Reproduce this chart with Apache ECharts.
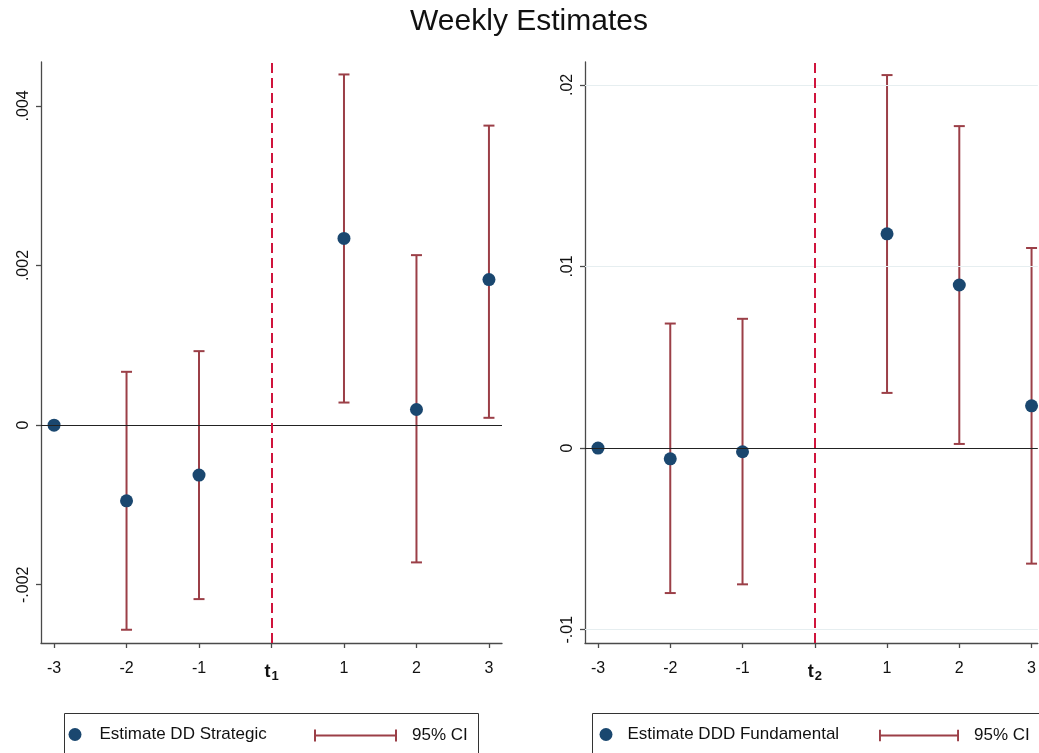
<!DOCTYPE html>
<html><head><meta charset="utf-8">
<script src="https://cdn.jsdelivr.net/npm/echarts@6/dist/echarts.min.js"></script>
<style>html,body{margin:0;padding:0;background:#fff}#c{width:1039px;height:753px}</style>
</head><body><div id="c"></div>
<script>
// ---- data ----
const weeks = [-3, -2, -1, 1, 2, 3];
const xTickValues = [-3, -2, -1, 0, 1, 2, 3];
const xTickLabelsLeft = ['-3', '-2', '-1', '{t|t}{s|1}', '1', '2', '3'];
const xTickLabelsRight = ['-3', '-2', '-1', '{t|t}{s|2}', '1', '2', '3'];

const leftEstimate = [0, -0.000948, -0.000626, 0.00234, 0.000196, 0.001824];
const leftLower    = [0, -0.002564, -0.00218, 0.000283, -0.00172, 0.0000917];
const leftUpper    = [0, 0.000668, 0.000927, 0.004394, 0.00213, 0.003753];
const leftYTicks = [-0.002, 0, 0.002, 0.004];
const leftYTickLabels = ['-.002', '0', '.002', '.004'];

const rightEstimate = [0, -0.000587, -0.0002, 0.0118, 0.00898, 0.00233];
const rightLower    = [0, -0.00798, -0.0075, 0.00304, 0.00023, -0.00636];
const rightUpper    = [0, 0.00686, 0.00712, 0.02054, 0.01773, 0.01102];
const rightYTicks = [-0.01, 0, 0.01, 0.02];
const rightYTickLabels = ['-.01', '0', '.01', '.02'];

const leftName = 'Estimate DD Strategic';
const rightName = 'Estimate DDD Fundamental';
const ciName = '95% CI';

// ---- style ----
const FONT = '"Liberation Sans", Arial, Helvetica, sans-serif';
const DOT = '#1a476f';
const CI = '#9b3f47';
const VLINE = '#d0143c';
const AXIS = '#4a4a4a';
const GRID = '#e6eef0';
const CI_ICON = 'path://M0,0h2v12h-2zM0,5h83v2h-83zM81,0h2v12h-2z';

function ciRender(params, api) {
  const x = api.value(0), lo = api.value(1), hi = api.value(2);
  const pLo = api.coord([x, lo]), pHi = api.coord([x, hi]);
  const hw = 5.5;
  const st = {stroke: CI, lineWidth: 2, fill: null};
  return {type: 'group', children: [
    {type: 'line', shape: {x1: pLo[0], y1: pLo[1], x2: pHi[0], y2: pHi[1]}, style: st},
    {type: 'line', shape: {x1: pLo[0] - hw, y1: pLo[1], x2: pLo[0] + hw, y2: pLo[1]}, style: st},
    {type: 'line', shape: {x1: pHi[0] - hw, y1: pHi[1], x2: pHi[0] + hw, y2: pHi[1]}, style: st}
  ]};
}

function xAxisFor(idx, labels, min, max) {
  return {
    type: 'value', gridIndex: idx, min: min, max: max,
    axisLine: {show: true, onZero: false, lineStyle: {color: AXIS, width: 1.3}},
    axisTick: {show: true, length: 5, customValues: xTickValues, lineStyle: {color: AXIS, width: 1.3}},
    splitLine: {show: false},
    axisLabel: {
      customValues: xTickValues, margin: 18, fontSize: 16, color: '#111', fontFamily: FONT,
      formatter: v => labels[xTickValues.indexOf(Math.round(v))],
      rich: {
        t: {fontSize: 18, fontWeight: 'bold', color: '#111', fontFamily: FONT},
        s: {fontSize: 13, fontWeight: 'bold', color: '#111', fontFamily: FONT, padding: [9, 0, 0, 1]}
      }
    }
  };
}
function yAxisFor(idx, min, max, ticks, labels) {
  return {
    type: 'value', gridIndex: idx, min: min, max: max,
    axisLine: {show: true, onZero: false, lineStyle: {color: AXIS, width: 1.3}},
    axisTick: {show: true, length: 5, customValues: ticks, lineStyle: {color: AXIS, width: 1.3}},
    splitLine: {show: false},
    axisLabel: {
      customValues: ticks, rotate: 90, margin: 9, fontSize: 16, color: '#111', fontFamily: FONT,
      formatter: v => {
        let best = 0;
        ticks.forEach((t, i) => { if (Math.abs(t - v) < Math.abs(ticks[best] - v)) best = i; });
        return labels[best];
      }
    }
  };
}
function refLines(idx, ticks) {
  return {
    type: 'line', xAxisIndex: idx, yAxisIndex: idx, data: [], z: 1, silent: true,
    markLine: {
      silent: true, symbol: 'none', animation: false, label: {show: false},
      data: ticks.filter(t => t !== 0).map(t => ({yAxis: t, lineStyle: {color: GRID, width: 1.2, type: 'solid'}}))
        .concat([
          {yAxis: 0, lineStyle: {color: '#222', width: 1, type: 'solid'}},
          {xAxis: 0, lineStyle: {color: VLINE, width: 2, type: [10, 5]}}
        ])
    }
  };
}

const chart = echarts.init(document.getElementById('c'), null, {renderer: 'canvas'});
chart.setOption({
  animation: false,
  backgroundColor: '#fff',
  textStyle: {fontFamily: FONT},
  title: {text: 'Weekly Estimates', left: 524, textAlign: 'center', top: 2,
    textStyle: {fontSize: 30, fontWeight: 'normal', color: '#111', fontFamily: FONT}},
  grid: [
    {left: 41, top: 62, width: 461, height: 581},
    {left: 585, top: 62, width: 454, height: 581}
  ],
  xAxis: [xAxisFor(0, xTickLabelsLeft, -3.18, 3.18), xAxisFor(1, xTickLabelsRight, -3.18, 3.087)],
  yAxis: [
    yAxisFor(0, -0.00273, 0.00455, leftYTicks, leftYTickLabels),
    yAxisFor(1, -0.01073, 0.02126, rightYTicks, rightYTickLabels)
  ],
  legend: [
    {data: [{name: leftName, icon: 'circle'}], left: 68.5, top: 726, padding: 0, itemWidth: 13, itemHeight: 13,
      textStyle: {fontSize: 17, color: '#111', fontFamily: FONT, padding: [0, 0, 0, 13]}},
    {data: [{name: ciName, icon: CI_ICON, itemStyle: {color: CI}}], left: 314, top: 727, padding: 0, itemWidth: 83, itemHeight: 12,
      textStyle: {fontSize: 17, color: '#111', fontFamily: FONT, padding: [0, 0, 0, 10]}},
    {data: [{name: rightName, icon: 'circle'}], left: 599.5, top: 726, padding: 0, itemWidth: 13, itemHeight: 13,
      textStyle: {fontSize: 17, color: '#111', fontFamily: FONT, padding: [0, 0, 0, 10]}},
    {data: [{name: ciName, icon: CI_ICON, itemStyle: {color: CI}}], left: 879, top: 727, padding: 0, itemWidth: 80, itemHeight: 12,
      textStyle: {fontSize: 17, color: '#111', fontFamily: FONT, padding: [0, 0, 0, 10]}}
  ],
  graphic: [
    {type: 'rect', silent: true, shape: {x: 64.5, y: 713.5, width: 414, height: 50}, style: {fill: null, stroke: '#333', lineWidth: 1}},
    {type: 'rect', silent: true, shape: {x: 592.5, y: 713.5, width: 460, height: 50}, style: {fill: null, stroke: '#333', lineWidth: 1}}
  ],
  series: [
    refLines(0, leftYTicks),
    refLines(1, rightYTicks),
    {type: 'custom', name: ciName, xAxisIndex: 0, yAxisIndex: 0, z: 2, renderItem: ciRender,
      itemStyle: {color: CI}, encode: {x: 0, y: [1, 2]},
      data: weeks.map((w, i) => [w, leftLower[i], leftUpper[i]])},
    {type: 'custom', name: ciName, xAxisIndex: 1, yAxisIndex: 1, z: 2, renderItem: ciRender,
      itemStyle: {color: CI}, encode: {x: 0, y: [1, 2]},
      data: weeks.map((w, i) => [w, rightLower[i], rightUpper[i]])},
    {type: 'scatter', name: leftName, xAxisIndex: 0, yAxisIndex: 0, z: 3, symbolSize: 13,
      itemStyle: {color: DOT, opacity: 1}, data: weeks.map((w, i) => [w, leftEstimate[i]])},
    {type: 'scatter', name: rightName, xAxisIndex: 1, yAxisIndex: 1, z: 3, symbolSize: 13,
      itemStyle: {color: DOT, opacity: 1}, data: weeks.map((w, i) => [w, rightEstimate[i]])}
  ]
});
</script>
</body></html>
